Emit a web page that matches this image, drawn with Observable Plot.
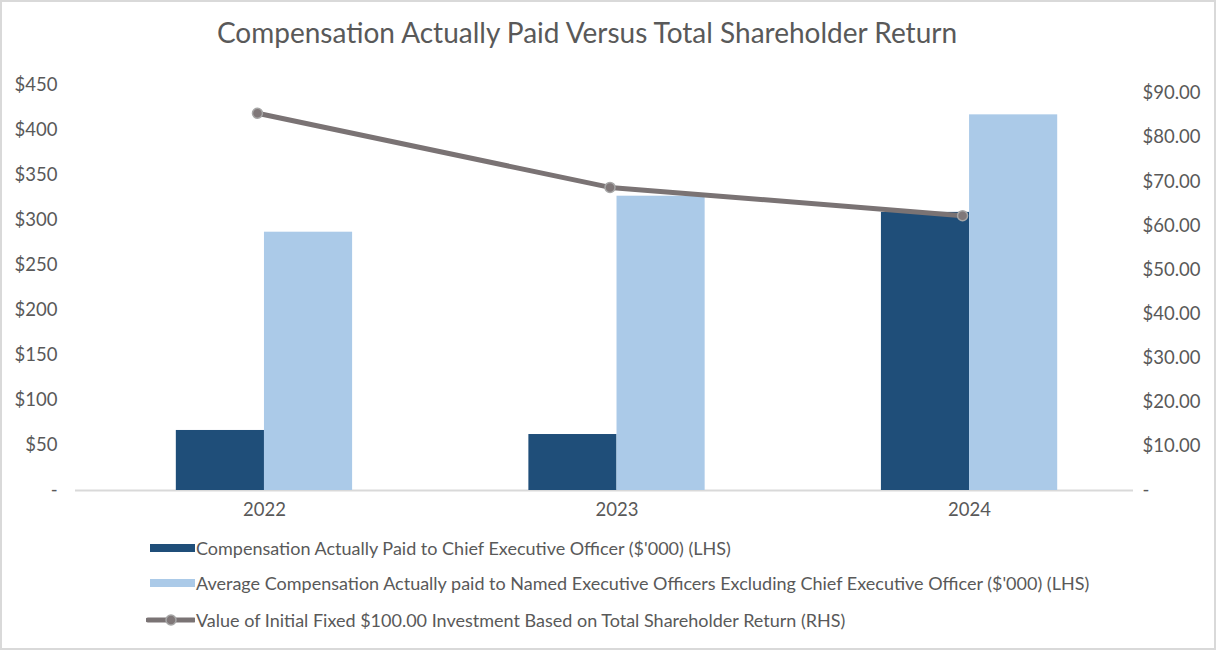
<!DOCTYPE html>
<html>
<head>
<meta charset="utf-8">
<script src="https://cdn.jsdelivr.net/npm/d3@7"></script>
<script src="https://cdn.jsdelivr.net/npm/@observablehq/plot@0.6"></script>
<style>
  html, body { margin: 0; padding: 0; background: #fff; }
  #wrap { position: relative; width: 1216px; height: 650px; background: #fff; font-family: Lato, "Open Sans", sans-serif; color: #595959; overflow: hidden; }
  #border { position: absolute; left: 0; top: 0; width: 1216px; height: 650px; box-sizing: border-box; border: 2px solid #d9d9d9; pointer-events: none; }
  #title { position: absolute; left: 0; top: 13px; width: 1174px; text-align: center; font-size: 28px; line-height: 38px; white-space: nowrap; }
  #chart { position: absolute; left: 0; top: 60px; }
  .leg { position: absolute; left: 146px; height: 24px; display: flex; align-items: center; font-size: 18px; white-space: nowrap; }
  .leg svg { margin-right: 1px; }
</style>
</head>
<body>
<div id="wrap">
  <div id="title"></div>
  <div id="chart"></div>
  <div id="legend"></div>
  <div id="border"></div>
</div>
<script>
const titleText = "Compensation Actually Paid Versus Total Shareholder Return";
const years = [2022, 2023, 2024];
const ceoPay = [66.7, 62.2, 309];
const neoPay = [287, 327, 417.4];
const tsrValue = [85.5, 68.7, 62.3];
const leftTicks = [0, 50, 100, 150, 200, 250, 300, 350, 400, 450];
const rightTicks = [0, 10, 20, 30, 40, 50, 60, 70, 80, 90];
const seriesNames = [
  "Compensation Actually Paid to Chief Executive Officer ($'000) (LHS)",
  "Average Compensation Actually paid to Named Executive Officers Excluding Chief Executive Officer ($'000) (LHS)",
  "Value of Initial Fixed $100.00 Investment Based on Total Shareholder Return (RHS)"
];
const seriesColors = ["#1f4e79", "#abcae8", "#7a7374"];
const leftMax = 450;
const rightMax = 91.8;
const k = leftMax / rightMax;

const ceoData = years.map((year, i) => ({year, value: ceoPay[i]}));
const neoData = years.map((year, i) => ({year, value: neoPay[i]}));
const tsrData = years.map((year, i) => ({year, value: tsrValue[i]}));

document.getElementById("title").textContent = titleText;

const chart = Plot.plot({
  width: 1216,
  height: 470,
  marginLeft: 75,
  marginRight: 83,
  marginTop: 25,
  marginBottom: 40,
  x: {type: "linear", domain: [2021.464, 2024.465]},
  y: {domain: [0, leftMax]},
  style: {fontFamily: "Lato, 'Open Sans', sans-serif", fontSize: "18.5px", color: "#595959", background: "transparent"},
  marks: [
    Plot.ruleY([0], {stroke: "#d9d9d9", strokeWidth: 2}),
    Plot.rectY(ceoData, {x1: d => d.year - 0.25, x2: d => d.year, y: "value", fill: seriesColors[0]}),
    Plot.rectY(neoData, {x1: d => d.year, x2: d => d.year + 0.25, y: "value", fill: seriesColors[1]}),
    Plot.line(tsrData, {x: "year", y: d => d.value * k, stroke: seriesColors[2], strokeWidth: 5, dx: -7}),
    Plot.dot(tsrData, {x: "year", y: d => d.value * k, r: 5, fill: "#807879", stroke: "#a6a6a6", strokeWidth: 1.5, dx: -7}),
    Plot.axisX(years, {tickSize: 0, tickPadding: 12, tickFormat: d => String(d), label: null}),
    Plot.axisY(leftTicks, {anchor: "left", tickSize: 0, tickPadding: 18, label: null,
      tickFormat: d => d === 0 ? "-" : "$" + d}),
    Plot.axisY(rightTicks.map(t => t * k), {anchor: "right", tickSize: 0, tickPadding: 9, label: null,
      tickFormat: d => { const v = Math.round(d / k); return v === 0 ? "-" : "$" + v.toFixed(2); }})
  ]
});
document.getElementById("chart").appendChild(chart);

const legend = document.getElementById("legend");
const legTops = [536, 571, 608];
seriesNames.forEach((name, i) => {
  const row = document.createElement("div");
  row.className = "leg";
  row.style.top = legTops[i] + "px";
  let sw;
  if (i < 2) {
    sw = `<svg width="49" height="24"><rect x="4" y="8" width="45" height="8" fill="${seriesColors[i]}"/></svg>`;
  } else {
    sw = `<svg width="49" height="24"><line x1="2" x2="48" y1="12" y2="12" stroke="${seriesColors[2]}" stroke-width="5" stroke-linecap="round"/><circle cx="25" cy="12" r="5" fill="#807879" stroke="#a6a6a6" stroke-width="1.5"/></svg>`;
  }
  row.innerHTML = sw + `<span></span>`;
  row.querySelector("span").textContent = name;
  legend.appendChild(row);
});
</script>
</body>
</html>
